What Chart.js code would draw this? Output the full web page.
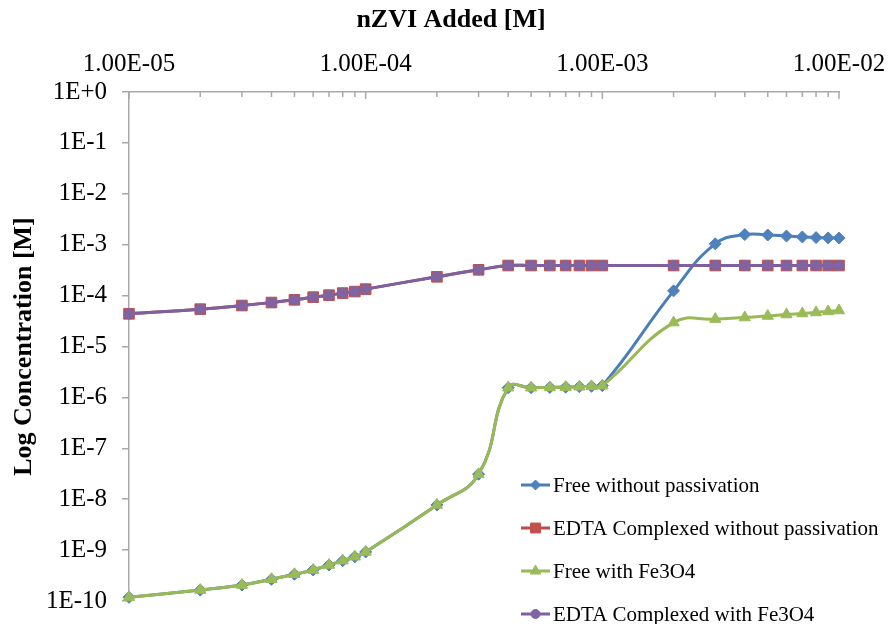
<!DOCTYPE html>
<html>
<head>
<meta charset="utf-8">
<script src="https://cdn.jsdelivr.net/npm/chart.js@4.4.0/dist/chart.umd.min.js"></script>
<style>
  html, body { margin: 0; padding: 0; background: #fff; }
  #wrap { width: 893px; height: 624px; }
</style>
</head>
<body>
<div id="wrap"><canvas id="grafico" width="893" height="624"></canvas></div>
<script>
/* ---------- datos ---------- */
// nZVI añadido [M]
const nzvi = [1e-5, 2e-5, 3e-5, 4e-5, 5e-5, 6e-5, 7e-5, 8e-5, 9e-5,
              1e-4, 2e-4, 3e-4, 4e-4, 5e-4, 6e-4, 7e-4, 8e-4, 9e-4,
              1e-3, 2e-3, 3e-3, 4e-3, 5e-3, 6e-3, 7e-3, 8e-3, 9e-3, 1e-2];

const freeNoPass = [1.18e-10, 1.64e-10, 2.06e-10, 2.67e-10, 3.35e-10, 4.07e-10, 5.1e-10, 6.2e-10, 7.4e-10,
                    9.2e-10, 7.7e-9, 3.1e-8, 1.55e-6, 1.55e-6, 1.57e-6, 1.59e-6, 1.62e-6, 1.65e-6,
                    1.7e-6, 1.24e-4, 1.04e-3, 1.58e-3, 1.55e-3, 1.48e-3, 1.42e-3, 1.38e-3, 1.36e-3, 1.35e-3];

const edtaNoPass = [4.38e-5, 5.42e-5, 6.38e-5, 7.31e-5, 8.26e-5, 9.33e-5, 1.02e-4, 1.12e-4, 1.2e-4,
                    1.34e-4, 2.34e-4, 3.21e-4, 3.9e-4, 3.9e-4, 3.9e-4, 3.9e-4, 3.9e-4, 3.9e-4,
                    3.9e-4, 3.9e-4, 3.9e-4, 3.9e-4, 3.9e-4, 3.9e-4, 3.9e-4, 3.9e-4, 3.9e-4, 3.9e-4];

const freeFe3O4 = [1.18e-10, 1.64e-10, 2.06e-10, 2.67e-10, 3.35e-10, 4.07e-10, 5.1e-10, 6.2e-10, 7.4e-10,
                   9.2e-10, 7.7e-9, 3.1e-8, 1.55e-6, 1.55e-6, 1.57e-6, 1.59e-6, 1.62e-6, 1.65e-6,
                   1.7e-6, 2.95e-5, 3.46e-5, 3.71e-5, 3.98e-5, 4.25e-5, 4.45e-5, 4.66e-5, 4.89e-5, 5.1e-5];

const edtaFe3O4 = [4.38e-5, 5.42e-5, 6.38e-5, 7.31e-5, 8.26e-5, 9.33e-5, 1.02e-4, 1.12e-4, 1.2e-4,
                   1.34e-4, 2.34e-4, 3.21e-4, 3.9e-4, 3.9e-4, 3.9e-4, 3.9e-4, 3.9e-4, 3.9e-4,
                   3.9e-4, 3.9e-4, 3.9e-4, 3.9e-4, 3.9e-4, 3.9e-4, 3.9e-4, 3.9e-4, 3.9e-4, 3.9e-4];

const seriesNames = ['Free without passivation', 'EDTA Complexed without passivation',
                     'Free with Fe3O4', 'EDTA Complexed with Fe3O4'];

// ticks de los ejes
const xMajor = [1e-5, 1e-4, 1e-3, 1e-2];
const xTickLabels = ['1.00E-05', '1.00E-04', '1.00E-03', '1.00E-02'];
const xMinorSteps = [2, 3, 4, 5, 6, 7, 8, 9];
const yMajor = [1e-10, 1e-9, 1e-8, 1e-7, 1e-6, 1e-5, 1e-4, 1e-3, 1e-2, 1e-1, 1];
const yTickLabels = ['1E-10', '1E-9', '1E-8', '1E-7', '1E-6', '1E-5', '1E-4', '1E-3', '1E-2', '1E-1', '1E+0'];

/* ---------- estilo ---------- */
const SERIF = "'Liberation Serif', 'Times New Roman', serif";
const AXIS_GRAY = '#a9a9a9';

const estilos = [
  { line: '#4a7ebb', fill: '#4f81bd', style: 'rectRot',  r: 6,   order: 4, legR: 5 },
  { line: '#be4b48', fill: '#c0504d', style: 'rect',     r: 7.5, order: 3, legR: 7 },
  { line: '#98b954', fill: '#9bbb59', style: 'triangle', r: 6.5, order: 2, legR: 6 },
  { line: '#7d60a0', fill: '#8064a2', style: 'circle',   r: 5,   order: 1, legR: 4.5 }
];

const valores = [freeNoPass, edtaNoPass, freeFe3O4, edtaFe3O4];

const datasets = valores.map((serie, i) => {
  const e = estilos[i];
  return {
    label: seriesNames[i],
    data: nzvi.map((x, j) => ({ x: x, y: serie[j] })),
    borderColor: e.line,
    backgroundColor: e.fill,
    borderWidth: 3,
    tension: 0.45,
    pointStyle: e.style,
    pointRadius: e.r,
    pointBackgroundColor: e.fill,
    pointBorderColor: e.fill,
    pointBorderWidth: 1,
    order: e.order,
    clip: false
  };
});

/* ---------- plugins ---------- */
// título del eje X (va encima de las etiquetas del eje superior)
const tituloX = {
  id: 'tituloX',
  afterDraw(chart) {
    const ctx = chart.ctx;
    ctx.save();
    ctx.font = 'bold 26px ' + SERIF;
    ctx.fillStyle = '#000';
    ctx.textAlign = 'center';
    ctx.textBaseline = 'middle';
    ctx.fillText('nZVI Added [M]', 451, 20);
    ctx.restore();
  }
};

// ticks interiores del eje superior (mayores y menores)
const ticksInternos = {
  id: 'ticksInternos',
  afterDraw(chart) {
    const sx = chart.scales.x;
    const top = chart.chartArea.top;
    const ctx = chart.ctx;
    ctx.save();
    ctx.strokeStyle = AXIS_GRAY;
    ctx.lineWidth = 1.5;
    ctx.beginPath();
    xMajor.forEach((m, k) => {
      const px = sx.getPixelForValue(m);
      ctx.moveTo(px, top);
      ctx.lineTo(px, top + 7);
      if (k < xMajor.length - 1) {
        xMinorSteps.forEach(s => {
          const p = sx.getPixelForValue(m * s);
          ctx.moveTo(p, top);
          ctx.lineTo(p, top + 5);
        });
      }
    });
    ctx.stroke();
    ctx.restore();
  }
};

// leyenda dentro del área del gráfico, abajo a la derecha
const leyenda = {
  id: 'leyenda',
  afterDraw(chart) {
    const ctx = chart.ctx;
    const x0 = 521, x1 = 550;
    const filas = [485, 528, 571, 614];
    ctx.save();
    ctx.font = '21px ' + SERIF;
    ctx.textBaseline = 'middle';
    ctx.textAlign = 'left';
    seriesNames.forEach((nombre, i) => {
      const e = estilos[i];
      const y = filas[i];
      ctx.strokeStyle = e.line;
      ctx.lineWidth = 3;
      ctx.beginPath();
      ctx.moveTo(x0, y);
      ctx.lineTo(x1, y);
      ctx.stroke();
      ctx.fillStyle = e.fill;
      ctx.strokeStyle = e.fill;
      ctx.lineWidth = 1;
      Chart.helpers.drawPoint(ctx, { pointStyle: e.style, radius: e.legR, rotation: 0, borderWidth: 1 }, (x0 + x1) / 2, y);
      ctx.fillStyle = '#000';
      ctx.fillText(nombre, x1 + 3, y + 1);
    });
    ctx.restore();
  }
};

/* ---------- gráfico ---------- */
new Chart(document.getElementById('grafico').getContext('2d'), {
  type: 'line',
  data: { datasets: datasets },
  options: {
    responsive: false,
    animation: false,
    events: [],
    layout: { padding: { left: 0, top: 0, right: 54, bottom: 23 } },
    plugins: {
      legend: { display: false },
      tooltip: { enabled: false }
    },
    scales: {
      x: {
        type: 'logarithmic',
        position: 'top',
        min: 1e-5,
        max: 1e-2,
        afterBuildTicks: s => { s.ticks = xMajor.map(v => ({ value: v })); },
        afterFit: s => {
          s.height = 92;
          s.paddingLeft = 0;
          s.paddingRight = 0;
        },
        grid: { display: false, drawTicks: false },
        border: { display: true, color: AXIS_GRAY, width: 1.5 },
        ticks: {
          autoSkip: false,
          maxRotation: 0,
          padding: 13,
          color: '#000',
          font: { family: SERIF, size: 25 },
          callback: (v, i) => xTickLabels[i]
        }
      },
      y: {
        type: 'logarithmic',
        min: 1e-10,
        max: 1,
        afterBuildTicks: s => { s.ticks = yMajor.map(v => ({ value: v })); },
        afterFit: s => {
          s.width = 129;
          s.paddingTop = 0;
          s.paddingBottom = 0;
        },
        grid: { display: true, drawOnChartArea: false, drawTicks: true, tickLength: 7, color: AXIS_GRAY, lineWidth: 1.5 },
        border: { display: true, color: AXIS_GRAY, width: 1.5 },
        ticks: {
          autoSkip: false,
          padding: 15,
          color: '#000',
          font: { family: SERIF, size: 25 },
          callback: (v, i) => yTickLabels[i]
        },
        title: {
          display: true,
          text: 'Log Concentration [M]',
          color: '#000',
          font: { family: SERIF, size: 26, weight: 'bold' },
          padding: { top: 9, bottom: 0 }
        }
      }
    }
  },
  plugins: [tituloX, ticksInternos, leyenda]
});
</script>
</body>
</html>
